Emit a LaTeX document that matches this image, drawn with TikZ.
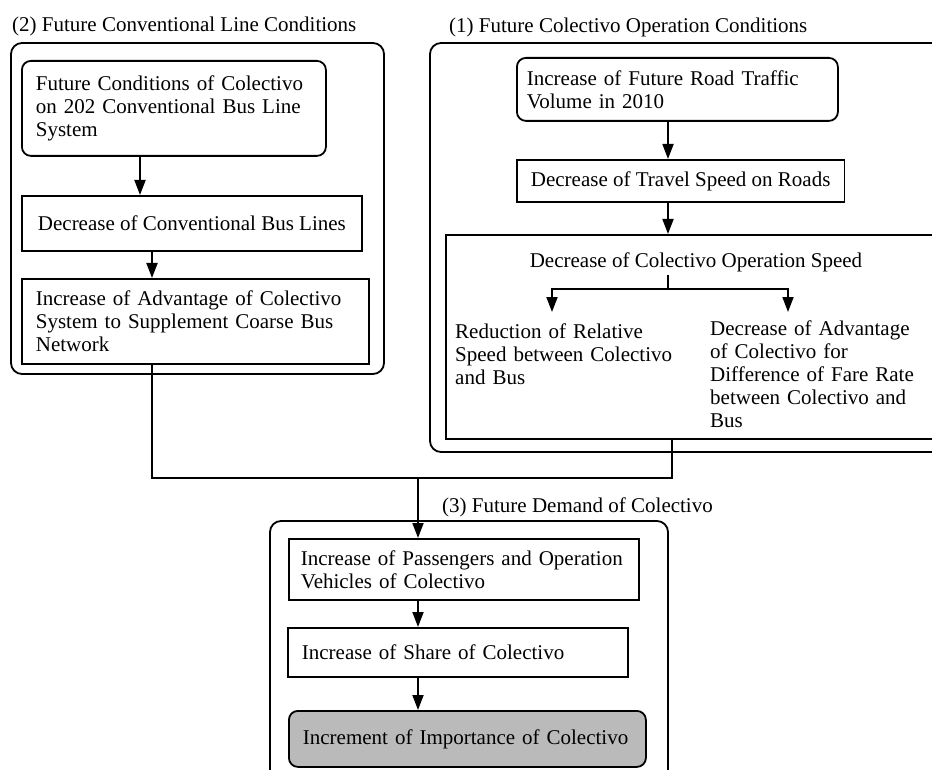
\documentclass[tikz,border=0pt]{standalone}
\usepackage{fontspec}
\setmainfont{Liberation Serif}
\usetikzlibrary{arrows.meta}

\newcommand{\boxfont}{\fontsize{21}{23}\selectfont}

\tikzset{
  box/.style={draw, line width=1.8pt, align=left, inner xsep=14pt, font=\boxfont, anchor=north west},
  rbox/.style={box, rounded corners=9pt},
  txt/.style={font=\boxfont, align=left, inner xsep=0pt, inner ysep=8pt, anchor=north west},
  title/.style={font=\boxfont, inner sep=0pt, anchor=west},
  frame/.style={line width=1.8pt, rounded corners=11pt},
  conn/.style={line width=1.8pt},
  arr/.style={conn, -{Triangle[length=15pt,width=11pt]}}
}

\begin{document}
\begin{tikzpicture}[x=1pt,y=-1pt]
\useasboundingbox (0,0) rectangle (932,770);
\clip (0,0) rectangle (932,770);

%gruppen
\draw[frame] (11,43) rectangle (384,374);
\draw[frame] (430,43) rectangle (960,452);
\draw[frame] (270,521) rectangle (668,790);
\node[title] (t2) at (12,26) {(2) Future Conventional Line Conditions};
\node[title] (t1) at (449,27) {(1) Future Colectivo Operation Conditions};
\node[title] (t3) at (442,507) {(3) Future Demand of Colectivo};

%(2) links
\node[rbox, text width=276pt, minimum height=95pt] (fcc) at (21,60) {Future Conditions of Colectivo\\on 202 Conventional Bus Line\\System};
\node[box, minimum width=340pt, minimum height=55pt] (dcb) at (21,195) {Decrease of Conventional Bus Lines};
\node[box, text width=319pt, minimum height=85pt] (iac) at (21,278) {Increase of Advantage of Colectivo\\System to Supplement Coarse Bus\\Network};

%(1) rechts
\node[rbox, inner xsep=10pt, text width=301pt, minimum height=63pt] (frt) at (516,57) {Increase of Future Road Traffic\\Volume in 2010};
\node[box, minimum width=327pt, minimum height=42pt] (dts) at (516,159) {Decrease of Travel Speed on Roads};
\node[box, minimum width=520pt, minimum height=204pt] (spd) at (445,234) {};
\node[font=\boxfont, inner xsep=0pt, inner ysep=3pt] (dcs) at (696,262) {Decrease of Colectivo Operation Speed};
\node[txt, text width=240pt] (rrs) at (455,316) {Reduction of Relative\\Speed between Colectivo\\and Bus};
\node[txt, text width=220pt] (dac) at (710,313) {Decrease of Advantage\\of Colectivo for\\Difference of Fare Rate\\between Colectivo and\\Bus};

%(3) unten
\node[box, inner xsep=12pt, text width=326pt, minimum height=61pt] (ipv) at (288,538) {Increase of Passengers and Operation\\Vehicles of Colectivo};
\node[box, text width=312pt, minimum height=49pt] (isc) at (287,627) {Increase of Share of Colectivo};
\node[rbox, fill=black!27, text width=329pt, minimum height=56pt] (iic) at (288,710) {Increment of Importance of Colectivo};

%pfeile
\coordinate (xl1) at (140,0);
\coordinate (xl2) at (152,0);
\coordinate (xr) at (668,0);
\coordinate (xf) at (672,0);
\coordinate (xa) at (552,0);
\coordinate (xb) at (788,0);
\coordinate (fork) at (668,289);
\coordinate (join) at (418,478);

\draw[arr] (fcc.south -| xl1) -- (dcb.north -| xl1);
\draw[arr] (dcb.south -| xl2) -- (iac.north -| xl2);
\draw[arr] (frt.south -| xr) -- (dts.north -| xr);
\draw[arr] (dts.south -| xr) -- (spd.north -| xr);
\draw[conn] (dcs.south -| fork) -- (fork);
\draw[arr] (fork) -| ([yshift=4pt]rrs.north -| xa);
\draw[arr] (fork) -| ([yshift=1pt]dac.north -| xb);

\draw[conn] (iac.south -| xl2) |- (join);
\draw[conn] (spd.south -| xf) |- (join);
\draw[arr] (join) -- (ipv.north -| join);
\draw[arr] (ipv.south -| join) -- (isc.north -| join);
\draw[arr] (isc.south -| join) -- (iic.north -| join);

\end{tikzpicture}
\end{document}
